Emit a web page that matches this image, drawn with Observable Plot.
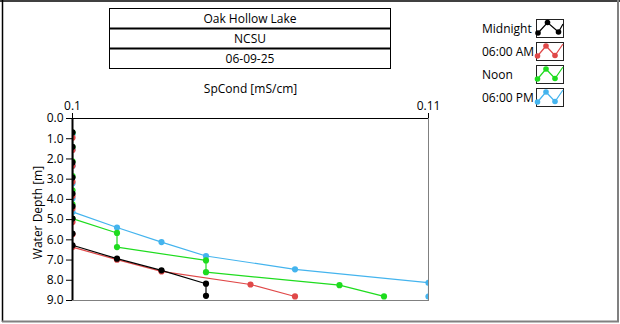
<!DOCTYPE html>
<html><head><meta charset="utf-8">
<script src="https://cdn.jsdelivr.net/npm/d3@7"></script>
<script src="https://cdn.jsdelivr.net/npm/@observablehq/plot@0.6"></script>
<style>
body{margin:0;background:#fff;}
#wrap{position:relative;width:620px;height:324px;overflow:hidden;font-family:"Open Sans",sans-serif;}
#wrap svg{position:absolute;left:0;top:0;}
</style></head><body><div id="wrap"></div>
<script>
// ---- data ----
const titleLines = ["Oak Hollow Lake", "NCSU", "06-09-25"];
const xLabel = "SpCond [mS/cm]";
const yLabel = "Water Depth [m]";
const xTicks = [0.1, 0.11];
const xTickLabels = ["0.1", "0.11"];
const yTicks = [0, 1, 2, 3, 4, 5, 6, 7, 8, 9];
const seriesNames = ["Midnight", "06:00 AM", "Noon", "06:00 PM"];
const seriesColors = ["#000000", "#e04848", "#1edc1e", "#44b4ee"];

const midnightDepth = [0.68, 1.40, 2.17, 2.92, 3.71, 4.34, 4.95, 5.69, 6.27, 6.93, 7.51, 8.17, 8.77];
const midnightSpCond = [0.1, 0.1, 0.1, 0.1, 0.1, 0.1, 0.1, 0.1, 0.1, 0.10125, 0.1025, 0.10375, 0.10375];

const am6Depth = [0.95, 1.56, 2.34, 3.13, 3.83, 4.45, 5.12, 5.73, 6.36, 6.98, 7.56, 8.21, 8.80];
const am6SpCond = [0.1, 0.1, 0.1, 0.1, 0.1, 0.1, 0.1, 0.1, 0.1, 0.10125, 0.1025, 0.105, 0.10625];

const noonDepth = [0.70, 1.42, 2.12, 2.85, 3.55, 4.25, 4.95, 5.66, 6.36, 7.02, 7.60, 8.24, 8.80];
const noonSpCond = [0.1, 0.1, 0.1, 0.1, 0.1, 0.1, 0.1, 0.10125, 0.10125, 0.10375, 0.10375, 0.1075, 0.10875];

const pm6Depth = [0.78, 1.55, 2.35, 3.21, 3.96, 4.62, 5.39, 6.11, 6.80, 7.46, 8.12, 8.80];
const pm6SpCond = [0.1, 0.1, 0.1, 0.1, 0.1, 0.1, 0.10125, 0.1025, 0.10375, 0.10625, 0.11, 0.11];

const seriesDepths = [midnightDepth, am6Depth, noonDepth, pm6Depth];
const seriesSpConds = [midnightSpCond, am6SpCond, noonSpCond, pm6SpCond];

// ---- build rows ----
const rowsBySeries = seriesNames.map((name, s) =>
  seriesDepths[s].map((d, i) => ({series: name, depth: d, spcond: seriesSpConds[s][i]})));

const marks = [Plot.frame({stroke: "#808080"})];
// draw 06:00 PM first, Midnight last (on top)
for (let s = seriesNames.length - 1; s >= 0; s--) {
  const rows = rowsBySeries[s];
  marks.push(Plot.line(rows, {x: "spcond", y: "depth", stroke: "series", strokeWidth: 1.2, clip: true}));
  marks.push(Plot.dot(rows, {x: "spcond", y: "depth", fill: "series", r: 3.1, stroke: "none", clip: true}));
}
marks.push(Plot.ruleY([0], {stroke: "black", strokeWidth: 1}));
marks.push(Plot.ruleX([0.1], {stroke: "black", strokeWidth: 2}));
marks.push(Plot.text([xLabel], {text: d => d, frameAnchor: "top", dy: -29, textAnchor: "middle", lineAnchor: "middle", fill: "black"}));
marks.push(Plot.text([yLabel], {text: d => d, frameAnchor: "left", dx: -34, dy: 3, rotate: -90, textAnchor: "middle", lineAnchor: "middle", fill: "black"}));

const chart = Plot.plot({
  width: 620, height: 324,
  marginLeft: 72, marginRight: 192, marginTop: 118, marginBottom: 24,
  style: {fontFamily: "Open Sans", fontSize: "12px", color: "black", background: "transparent"},
  x: {domain: [0.1, 0.11], axis: "top", ticks: xTicks, tickSize: 6, tickPadding: 3,
      tickFormat: d => xTickLabels[xTicks.indexOf(d)], label: null},
  y: {domain: [0, 9], reverse: true, ticks: yTicks, tickSize: 6, tickPadding: 3,
      tickFormat: d => d.toFixed(1), label: null},
  color: {domain: seriesNames, range: seriesColors},
  marks
});
const wrap = document.getElementById("wrap");
wrap.appendChild(chart);

// ---- overlay: title box, legend, outer border ----
const ov = d3.select(wrap).append("svg")
  .attr("width", 620).attr("height", 324)
  .style("font-family", "Open Sans").style("font-size", "12px");

// title box
const bx = 109.5, by = 8.5, bw = 281, rh = 20;
ov.append("rect").attr("x", bx).attr("y", by).attr("width", bw).attr("height", rh * 3)
  .attr("fill", "none").attr("stroke", "black");
[1, 2].forEach(k => ov.append("line").attr("x1", bx).attr("x2", bx + bw)
  .attr("y1", by + rh * k).attr("y2", by + rh * k).attr("stroke", "black").attr("stroke-width", 2));
titleLines.forEach((t, k) => ov.append("text").attr("x", bx + bw / 2).attr("y", by + rh * k + rh / 2)
  .attr("text-anchor", "middle").attr("dominant-baseline", "central").text(t));

// legend
const shapeA = [[2, 14], [11.5, 3.5], [22.5, 13], [27, 5]];
const shapeB = [[1.5, 14], [10, 4], [19, 13.5], [27, 2]];
seriesNames.forEach((name, s) => {
  const cy = 28 + 23 * s;
  ov.append("text").attr("x", 482).attr("y", cy).attr("dominant-baseline", "central").text(name);
  const g = ov.append("g").attr("transform", `translate(536,${cy - 9})`);
  g.append("rect").attr("x", 0.5).attr("y", 0.5).attr("width", 27).attr("height", 18)
    .attr("fill", "white").attr("stroke", "#222");
  const pts = s === 0 ? shapeA : shapeB;
  const inner = g.append("g");
  inner.append("polyline").attr("points", pts.map(p => p.join(",")).join(" "))
    .attr("fill", "none").attr("stroke", seriesColors[s]).attr("stroke-width", 1.2);
  pts.slice(0, 3).forEach(p => inner.append("circle").attr("cx", p[0]).attr("cy", p[1]).attr("r", 2.8)
    .attr("fill", seriesColors[s]));
});

// outer border
ov.append("line").attr("x1", 0).attr("x2", 620).attr("y1", 1).attr("y2", 1).attr("stroke", "black").attr("stroke-width", 1.5);
ov.append("line").attr("x1", 2.5).attr("x2", 2.5).attr("y1", 0).attr("y2", 322).attr("stroke", "black").attr("stroke-width", 1.5);
ov.append("line").attr("x1", 618).attr("x2", 618).attr("y1", 0).attr("y2", 322).attr("stroke", "#808080").attr("stroke-width", 2);
ov.append("line").attr("x1", 2).attr("x2", 619).attr("y1", 321.5).attr("y2", 321.5).attr("stroke", "#808080").attr("stroke-width", 2);
</script></body></html>
